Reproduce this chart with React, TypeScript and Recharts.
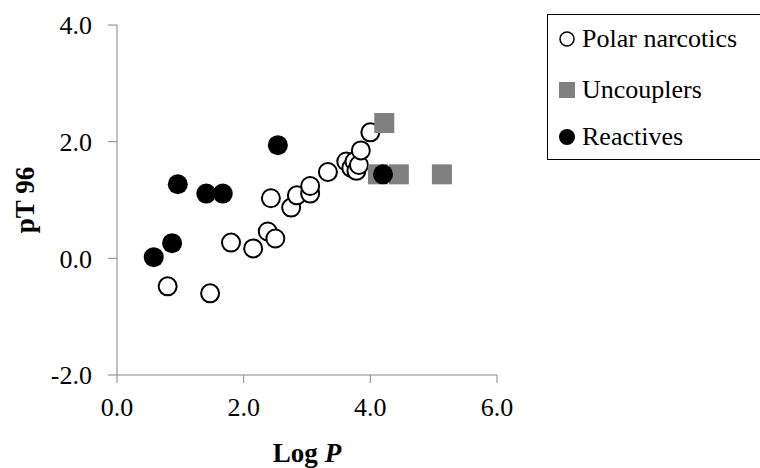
import { ScatterChart, Scatter, XAxis, YAxis, Legend, Label } from "recharts";

const polarX = [0.8, 1.47, 1.8, 2.15, 2.38, 2.5, 2.43, 2.75, 2.84, 3.05, 3.05, 3.33, 3.62, 3.7, 3.75, 3.78, 3.82, 3.85, 4.0];
const polarY = [-0.48, -0.6, 0.27, 0.17, 0.46, 0.34, 1.03, 0.87, 1.08, 1.11, 1.24, 1.48, 1.66, 1.55, 1.66, 1.5, 1.6, 1.85, 2.16];
const uncouplerX = [4.22, 4.12, 4.45, 5.13];
const uncouplerY = [2.32, 1.44, 1.44, 1.44];
const reactiveX = [0.58, 0.87, 0.96, 1.41, 1.67, 2.54, 4.2];
const reactiveY = [0.02, 0.26, 1.27, 1.11, 1.11, 1.94, 1.44];
const xTicks = [0, 2, 4, 6];
const yTicks = [-2, 0, 2, 4];

const toPoints = (xs: number[], ys: number[]) => xs.map((x, i) => ({ x, y: ys[i] }));

const FONT = "Liberation Serif";
const AXIS = "#868686";
const FS = 26;
const TITLE_FS = 27;

const OpenCircle = (p: any) => <circle cx={p.cx} cy={p.cy} r={9} fill="#fff" stroke="#000" strokeWidth={2} />;
const GraySquare = (p: any) => <rect x={p.cx - 10} y={p.cy - 10} width={20} height={20} fill="#808080" />;
const BlackDot = (p: any) => <circle cx={p.cx} cy={p.cy} r={10} fill="#000" />;

// vertical centre of each legend row, measured from the top of the legend box
const legendItems = [
  { name: "Polar narcotics", mid: 24, icon: <circle cx={9} cy={9} r={7} fill="#fff" stroke="#000" strokeWidth={1.5} /> },
  { name: "Uncouplers", mid: 75, icon: <rect x={1} y={1} width={16} height={16} fill="#808080" /> },
  { name: "Reactives", mid: 122, icon: <circle cx={9} cy={9} r={8} fill="#000" /> },
];

function LegendBox() {
  return (
    <div style={{ position: "relative", width: 240, height: 146, border: "1.5px solid #000", boxSizing: "border-box", fontFamily: FONT, fontSize: FS, color: "#000" }}>
      {legendItems.map((it) => (
        <div key={it.name} style={{ position: "absolute", left: 10, top: it.mid - 18, height: 36, display: "flex", alignItems: "center", whiteSpace: "nowrap" }}>
          <svg width={18} height={18} style={{ marginRight: 6 }}>{it.icon}</svg>
          <span>{it.name}</span>
        </div>
      ))}
    </div>
  );
}

export default function App() {
  return (
    <div style={{ position: "absolute", left: 0, top: 0, width: 760, height: 468, overflow: "hidden", background: "#fff", fontFamily: FONT }}>
      <ScatterChart width={760} height={468} margin={{ top: 25, right: 263, bottom: 43, left: 57 }}>
        <XAxis
          type="number"
          dataKey="x"
          domain={[0, 6]}
          ticks={xTicks}
          tickFormatter={(v: number) => v.toFixed(1)}
          height={50}
          stroke={AXIS}
          tickSize={8}
          tickMargin={15}
          tick={{ fill: "#000", fontSize: FS, fontFamily: FONT }}
          allowDataOverflow
        >
          <Label content={() => (
            <text x={307} y={462} textAnchor="middle" fontFamily={FONT} fontSize={TITLE_FS} fontWeight="bold" fill="#000">
              Log <tspan fontStyle="italic">P</tspan>
            </text>
          )} />
        </XAxis>
        <YAxis
          type="number"
          dataKey="y"
          domain={[-2, 4]}
          ticks={yTicks}
          tickFormatter={(v: number) => v.toFixed(1)}
          width={60}
          stroke={AXIS}
          tickSize={9}
          tickMargin={16}
          tick={{ fill: "#000", fontSize: FS, fontFamily: FONT }}
          allowDataOverflow
        >
          <Label content={() => (
            <text x={34} y={200} transform="rotate(-90 34 200)" textAnchor="middle" fontFamily={FONT} fontSize={TITLE_FS} fontWeight="bold" fill="#000">
              pT 96
            </text>
          )} />
        </YAxis>
        <Legend
          layout="vertical"
          align="center"
          verticalAlign="middle"
          wrapperStyle={{ position: "absolute", left: 547, top: 14, width: 240 }}
          content={() => <LegendBox />}
        />
        <Scatter name="Polar narcotics" data={toPoints(polarX, polarY)} shape={OpenCircle} isAnimationActive={false} />
        <Scatter name="Uncouplers" data={toPoints(uncouplerX, uncouplerY)} shape={GraySquare} isAnimationActive={false} />
        <Scatter name="Reactives" data={toPoints(reactiveX, reactiveY)} shape={BlackDot} isAnimationActive={false} />
      </ScatterChart>
    </div>
  );
}
